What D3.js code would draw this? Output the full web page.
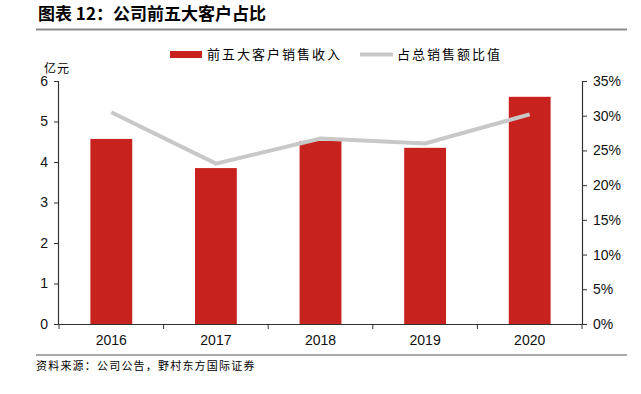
<!DOCTYPE html>
<html>
<head>
<meta charset="utf-8">
<style>
  body { margin: 0; background: #fff; }
  svg { display: block; }
</style>
</head>
<body>
<svg id="chart" width="641" height="394"></svg>
<script src="https://d3js.org/d3.v7.min.js"></script>
<script>
    const WIDTH = 641;
    const HEIGHT = 394;
    const CJK = '"Noto Sans CJK SC", "Noto Sans", sans-serif';
    const NUM = '"Liberation Sans", Arial, sans-serif';

    // data
    const years = ['2016', '2017', '2018', '2019', '2020'];
    const revenue = [4.57, 3.85, 4.52, 4.35, 5.61];      // 亿元
    const share = [0.305, 0.231, 0.267, 0.260, 0.302];    // 占总销售额比值
    const leftTicks = [0, 1, 2, 3, 4, 5, 6];
    const rightTicks = [0, 0.05, 0.10, 0.15, 0.20, 0.25, 0.30, 0.35];

    const plotL = 59, plotR = 582, plotT = 81, plotB = 324;

    let svg = d3.select('#chart');

    const x = d3.scaleBand().domain(years).range([plotL, plotR]).paddingInner(0.6).paddingOuter(0.3);
    const yL = d3.scaleLinear().domain([0, 6]).range([plotB, plotT]);
    const yR = d3.scaleLinear().domain([0, 0.35]).range([plotB, plotT]);

    // title
    svg.append('text')
        .attr('x', 38).attr('y', 20)
        .attr('font-family', CJK).attr('font-weight', 'bold').attr('font-size', 17)
        .attr('fill', '#000')
        .text('图表 12：公司前五大客户占比');
    svg.append('line')
        .attr('x1', 36).attr('x2', 627).attr('y1', 29.5).attr('y2', 29.5)
        .attr('stroke', '#8c8c8c').attr('stroke-width', 2);

    // unit
    svg.append('text')
        .attr('x', 44).attr('y', 73)
        .attr('font-family', CJK).attr('font-size', 12).attr('letter-spacing', 1)
        .text('亿元');

    // bars
    svg.append('g').selectAll('rect')
        .data(years)
        .join('rect')
        .attr('x', d => x(d))
        .attr('y', (d, i) => yL(revenue[i]))
        .attr('width', x.bandwidth())
        .attr('height', (d, i) => plotB - yL(revenue[i]))
        .attr('fill', '#c8221f');

    // line
    const line = d3.line()
        .x((d, i) => x(years[i]) + x.bandwidth() / 2)
        .y(d => yR(d));
    svg.append('path')
        .datum(share)
        .attr('d', line)
        .attr('fill', 'none')
        .attr('stroke', '#c8c8c8')
        .attr('stroke-width', 4);

    // axes
    const axisL = svg.append('g')
        .attr('transform', `translate(${plotL},0)`)
        .call(d3.axisLeft(yL).tickValues(leftTicks).tickSize(5).tickPadding(6).tickFormat(d3.format('d')));
    const axisR = svg.append('g')
        .attr('transform', `translate(${plotR},0)`)
        .call(d3.axisRight(yR).tickValues(rightTicks).tickSize(5).tickPadding(6).tickFormat(d3.format('.0%')));
    const axisB = svg.append('g')
        .attr('transform', `translate(0,${plotB})`)
        .call(d3.axisBottom(x).tickSize(0).tickPadding(11));

    // category boundary ticks on x axis
    const bounds = [plotL].concat(years.map(d => x(d) + x.bandwidth() + x.step() * 0.3));
    svg.append('g').selectAll('line')
        .data(bounds)
        .join('line')
        .attr('x1', d => d).attr('x2', d => d)
        .attr('y1', plotB).attr('y2', plotB + 5)
        .attr('stroke', '#333');

    [axisL, axisR, axisB].forEach(g => {
        g.select('.domain').attr('stroke', '#333').attr('stroke-width', 1.2);
        g.selectAll('.tick line').attr('stroke', '#333');
        g.selectAll('text')
            .attr('font-family', NUM).attr('font-size', 14).attr('fill', '#111');
    });
    axisL.select('.domain').attr('d', `M-0.5,${plotT}V${plotB}`);
    axisR.select('.domain').attr('d', `M0.5,${plotT}V${plotB}`);
    axisB.select('.domain').attr('d', `M${plotL - 4},0.5H${plotR + 4}`);

    // legend
    const legend = svg.append('g').attr('font-family', CJK).attr('font-size', 13).attr('letter-spacing', 2);
    legend.append('rect')
        .attr('x', 170).attr('y', 51).attr('width', 32).attr('height', 7)
        .attr('fill', '#c8221f');
    legend.append('text')
        .attr('x', 207).attr('y', 59)
        .text('前五大客户销售收入');
    legend.append('line')
        .attr('x1', 360).attr('x2', 393).attr('y1', 54.5).attr('y2', 54.5)
        .attr('stroke', '#c8c8c8').attr('stroke-width', 4);
    legend.append('text')
        .attr('x', 397).attr('y', 59)
        .text('占总销售额比值');

    // source
    svg.append('line')
        .attr('x1', 36).attr('x2', 627).attr('y1', 355).attr('y2', 355)
        .attr('stroke', '#8c8c8c').attr('stroke-width', 1.5);
    svg.append('text')
        .attr('x', 36).attr('y', 370)
        .attr('font-family', CJK).attr('font-size', 11).attr('letter-spacing', 1.2)
        .text('资料来源：公司公告，野村东方国际证券');
</script>
</body>
</html>
